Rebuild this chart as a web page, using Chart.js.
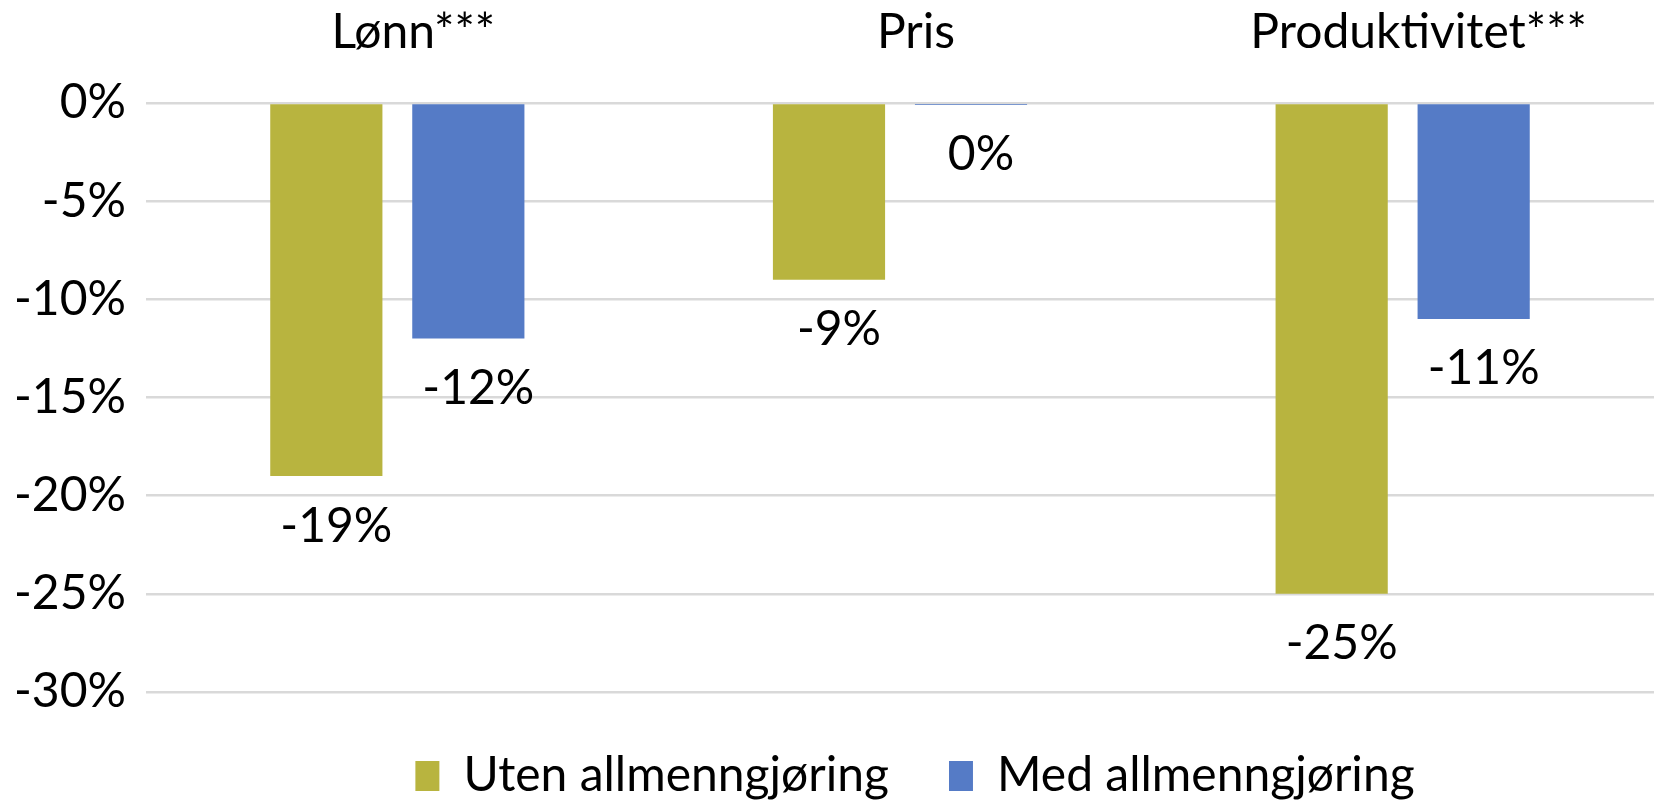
<!DOCTYPE html>
<html>
<head>
<meta charset="utf-8">
<script src="https://cdn.jsdelivr.net/npm/chart.js@4.4.1/dist/chart.umd.min.js"></script>
<style>
  body { margin: 0; background: #fff; }
</style>
</head>
<body>
<canvas id="effectChart" width="1654" height="810"></canvas>
<script>
// data
const categories = ['Lønn***', 'Pris', 'Produktivitet***'];
const seriesNames = ['Uten allmenngjøring', 'Med allmenngjøring'];
const utenValues = [-19, -9, -25];
const medValues = [-12, 0, -11];
const yTicks = [0, -5, -10, -15, -20, -25, -30];

const olive = '#B8B43F';
const blue = '#557BC6';
const fontFamily = 'Lato, "Open Sans", sans-serif';

/* draws the value under the end of every bar */
const valueLabels = {
    id: 'valueLabels',
    afterDatasetsDraw(chart) {
        const ctx = chart.ctx;
        ctx.save();
        ctx.font = '48px ' + fontFamily;
        ctx.fillStyle = '#000';
        ctx.textAlign = 'center';
        ctx.textBaseline = 'middle';
        chart.data.datasets.forEach((ds, i) => {
            chart.getDatasetMeta(i).data.forEach((bar, j) => {
                const v = Math.round(ds.data[j]);
                ctx.fillText(v + '%', bar.x + 10, bar.y + 50);
            });
        });
        ctx.restore();
    }
};

/* nudge the legend a bit to the right, like the original */
const legendShift = {
    id: 'legendShift',
    afterLayout(chart) {
        chart.legend.left += 15;
        chart.legend.right += 15;
    }
};

const ctx = document.getElementById('effectChart').getContext('2d');
const chart = new Chart(ctx, {
    type: 'bar',
    data: {
        labels: categories,
        datasets: [
            {
                label: seriesNames[0],
                data: utenValues,
                backgroundColor: olive,
                barPercentage: 0.79,
                categoryPercentage: 0.565
            },
            {
                label: seriesNames[1],
                data: medValues,
                backgroundColor: blue,
                barPercentage: 0.79,
                categoryPercentage: 0.565,
                minBarLength: 2
            }
        ]
    },
    options: {
        responsive: false,
        devicePixelRatio: 1,
        animation: false,
        layout: { padding: { left: 0, top: 0, bottom: 0, right: -7 } },
        plugins: {
            tooltip: { enabled: false },
            legend: {
                position: 'bottom',
                fullSize: false,
                labels: {
                    boxWidth: 24,
                    boxHeight: 30,
                    padding: 60,
                    color: '#000',
                    font: { family: fontFamily, size: 48 }
                }
            }
        },
        scales: {
            x: {
                position: 'top',
                grid: { display: false },
                border: { display: false },
                ticks: {
                    color: '#000',
                    padding: 34,
                    labelOffset: 16,
                    font: { family: fontFamily, size: 48 }
                },
                afterFit: (scale) => { scale.height = 103; }
            },
            y: {
                min: -30,
                max: 0,
                grid: { color: '#D9D9D9', lineWidth: 2.5, drawTicks: false },
                border: { display: false },
                afterBuildTicks: (scale) => {
                    scale.ticks = yTicks.map(v => ({ value: v }));
                },
                ticks: {
                    color: '#000',
                    padding: 20,
                    font: { family: fontFamily, size: 48 },
                    callback: (value) => value + '%'
                },
                afterFit: (scale) => { scale.width = 146; }
            }
        }
    },
    plugins: [valueLabels, legendShift]
});
</script>
</body>
</html>
